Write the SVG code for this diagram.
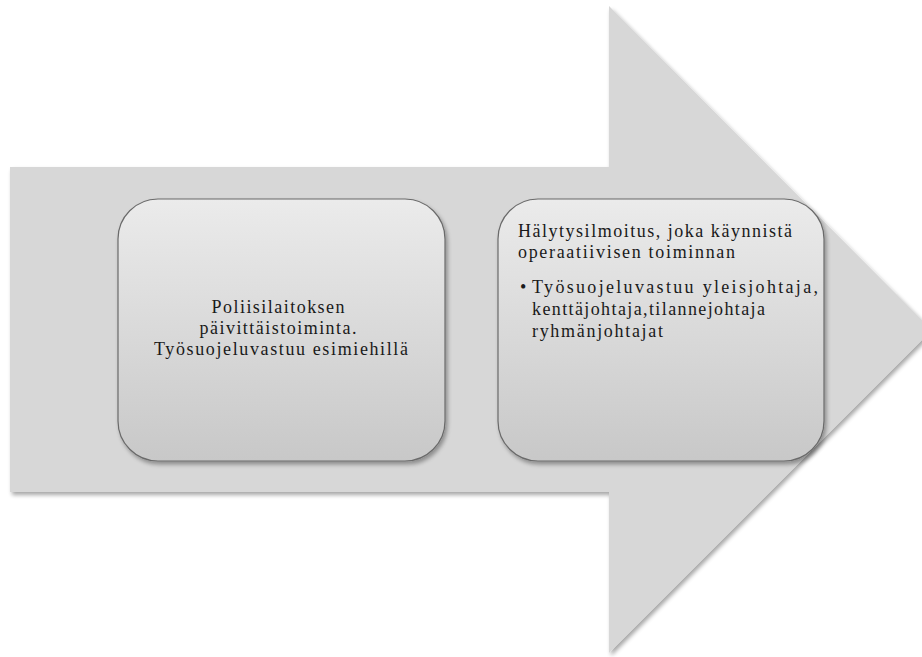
<svg xmlns="http://www.w3.org/2000/svg" width="922" height="657" viewBox="0 0 922 657">
  <defs>
    <linearGradient id="boxFill" x1="0" y1="0" x2="0" y2="1">
      <stop offset="0" stop-color="#ebebeb"/>
      <stop offset="1" stop-color="#c8c8c8"/>
    </linearGradient>
    <filter id="shadow" x="-5%" y="-5%" width="112%" height="112%">
      <feGaussianBlur in="SourceAlpha" stdDeviation="2"/>
      <feOffset dx="2" dy="3" result="b"/>
      <feComponentTransfer><feFuncA type="linear" slope="0.35"/></feComponentTransfer>
      <feMerge><feMergeNode/><feMergeNode in="SourceGraphic"/></feMerge>
    </filter>
    <style>
      .box { fill: url(#boxFill); stroke: #6a6a6a; stroke-width: 1.2; }
      .txt { font-family: "Liberation Serif", "DejaVu Serif", serif; font-size: 18px; fill: #1a1a1a; }
    </style>
  </defs>
  <rect width="922" height="657" fill="#ffffff"/>

  <!-- big process arrow -->
  <g id="arrow">
    <polygon points="10,167 609,167 609,6 932,330 609,653 609,492 10,492" fill="#d7d7d7" filter="url(#shadow)"/>
  </g>

  <g id="step1">
    <rect class="box" x="118" y="199" width="327" height="262" rx="40" ry="40" filter="url(#shadow)"/>
    <text class="txt" text-anchor="middle">
      <tspan x="281" y="313" textLength="133" lengthAdjust="spacing">Poliisilaitoksen</tspan>
      <tspan x="281" y="334" textLength="157" lengthAdjust="spacing">päivittäistoiminta.</tspan>
      <tspan x="281" y="355" textLength="254" lengthAdjust="spacing">Työsuojeluvastuu esimiehillä</tspan>
    </text>
  </g>

  <g id="step2">
    <rect class="box" x="498" y="199" width="326" height="262" rx="40" ry="40" filter="url(#shadow)"/>
    <text class="txt">
      <tspan x="518" y="237" textLength="274" lengthAdjust="spacing">Hälytysilmoitus, joka käynnistä</tspan>
      <tspan x="518" y="258" textLength="217" lengthAdjust="spacing">operaatiivisen toiminnan</tspan>
      <tspan x="520" y="293">•</tspan>
      <tspan x="532" y="293" textLength="286" lengthAdjust="spacing">Työsuojeluvastuu yleisjohtaja,</tspan>
      <tspan x="532" y="315" textLength="233" lengthAdjust="spacing">kenttäjohtaja,tilannejohtaja</tspan>
      <tspan x="532" y="337" textLength="131" lengthAdjust="spacing">ryhmänjohtajat</tspan>
    </text>
  </g>
</svg>
